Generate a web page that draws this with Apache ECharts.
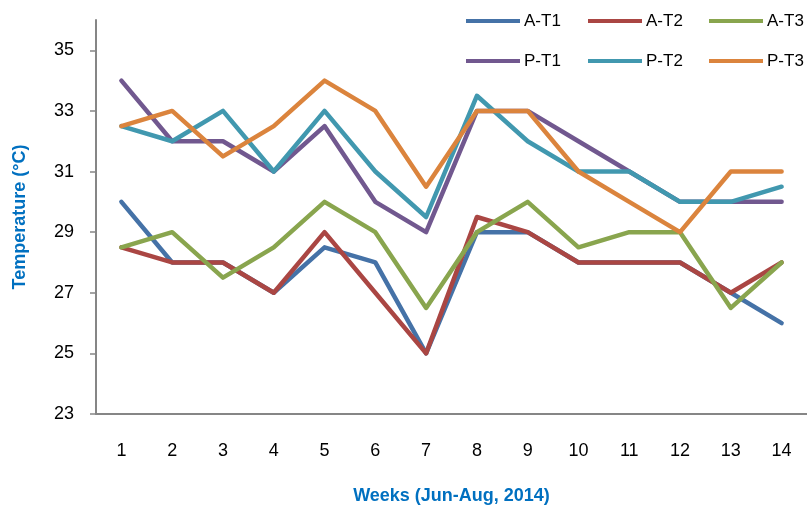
<!DOCTYPE html>
<html>
<head>
<meta charset="utf-8">
<script src="https://cdn.jsdelivr.net/npm/echarts@6/dist/echarts.min.js"></script>
<style>
  html, body { margin: 0; padding: 0; background: #fff; }
  #main { width: 807px; height: 510px; }
</style>
</head>
<body>
<div id="main"></div>
<script>
// weeks 1..14
const weeks = ['1', '2', '3', '4', '5', '6', '7', '8', '9', '10', '11', '12', '13', '14'];

const names = ['A-T1', 'A-T2', 'A-T3', 'P-T1', 'P-T2', 'P-T3'];
const colors = ['#4572A7', '#AA4643', '#89A54E', '#71588F', '#4198AF', '#DB843D'];

const aT1 = [30, 28, 28, 27, 28.5, 28, 25, 29, 29, 28, 28, 28, 27, 26];
const aT2 = [28.5, 28, 28, 27, 29, 27, 25, 29.5, 29, 28, 28, 28, 27, 28];
const aT3 = [28.5, 29, 27.5, 28.5, 30, 29, 26.5, 29, 30, 28.5, 29, 29, 26.5, 28];
const pT1 = [34, 32, 32, 31, 32.5, 30, 29, 33, 33, 32, 31, 30, 30, 30];
const pT2 = [32.5, 32, 33, 31, 33, 31, 29.5, 33.5, 32, 31, 31, 30, 30, 30.5];
const pT3 = [32.5, 33, 31.5, 32.5, 34, 33, 30.5, 33, 33, 31, 30, 29, 31, 31];

const values = [aT1, aT2, aT3, pT1, pT2, pT3];

const font = '"Liberation Sans", Arial, sans-serif';
const legendLeft = [466, 588, 709];
const legendTop = [11, 51];

const chart = echarts.init(document.getElementById('main'));

chart.setOption({
  animation: false,
  textStyle: { fontFamily: font },
  grid: { left: 96, top: 20, width: 714, height: 395 },
  legend: names.map((n, i) => ({
    data: [n],
    left: legendLeft[i % 3],
    top: legendTop[Math.floor(i / 3)],
    icon: 'rect',
    itemWidth: 54,
    itemHeight: 4,
    itemGap: 0,
    padding: 0,
    textStyle: { fontSize: 17, color: '#000', lineHeight: 20, padding: [0, 0, 0, -1] }
  })),
  xAxis: {
    type: 'category',
    data: weeks,
    boundaryGap: true,
    name: 'Weeks (Jun-Aug, 2014)',
    nameLocation: 'middle',
    nameGap: 73,
    nameTextStyle: { color: '#0070C0', fontSize: 18, fontWeight: 'bold' },
    axisLine: { lineStyle: { color: '#868686', width: 2 } },
    axisTick: { show: false },
    axisLabel: { color: '#000', fontSize: 18, margin: 28 }
  },
  yAxis: {
    type: 'value',
    min: 23,
    max: 36,
    interval: 2,
    name: 'Temperature (°C)',
    nameLocation: 'middle',
    nameRotate: 90,
    nameGap: 67,
    nameTextStyle: { color: '#0070C0', fontSize: 18, fontWeight: 'bold' },
    axisLine: { show: true, lineStyle: { color: '#868686', width: 2 } },
    axisTick: { show: true, length: 6, lineStyle: { color: '#868686', width: 1.5 } },
    axisLabel: { color: '#000', fontSize: 18, margin: 22, showMaxLabel: false },
    splitLine: { show: false }
  },
  series: names.map((n, i) => ({
    name: n,
    type: 'line',
    data: values[i],
    showSymbol: false,
    symbol: 'none',
    color: colors[i],
    lineStyle: { width: 4.5, color: colors[i], cap: 'round', join: 'round' }
  }))
});
</script>
</body>
</html>
